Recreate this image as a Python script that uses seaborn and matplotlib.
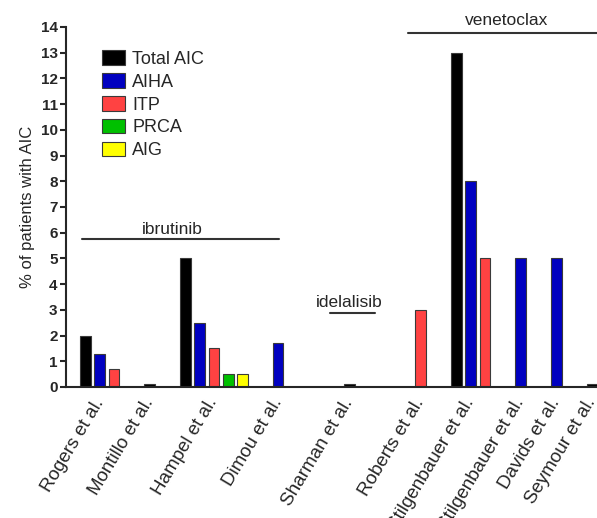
import matplotlib
matplotlib.use("Agg")
import matplotlib.pyplot as plt
import numpy as np
import pandas as pd
import seaborn as sns

studies = ["Rogers et al.", "Montillo et al.", "Hampel et al.", "Dimou et al.",
           "Sharman et al.", "Roberts et al.", "Stilgenbauer et al.",
           "Stilgenbauer et al.", "Davids et al.", "Seymour et al."]
drugs = ["ibrutinib", "ibrutinib", "ibrutinib", "ibrutinib", "idelalisib",
         "venetoclax", "venetoclax", "venetoclax", "venetoclax", "venetoclax"]
total_aic = [2.0, 0.1, 5.0, None, 0.1, None, 13.0, None, None, 0.1]
aiha = [1.3, None, 2.5, 1.7, None, None, 8.0, 5.0, 5.0, None]
itp = [0.7, None, 1.5, None, None, 3.0, 5.0, None, None, None]
prca = [None, None, 0.5, None, None, None, None, None, None, None]
aig = [None, None, 0.5, None, None, None, None, None, None, None]

types = ["Total AIC", "AIHA", "ITP", "PRCA", "AIG"]
series = dict(zip(types, [total_aic, aiha, itp, prca, aig]))
colors = {"Total AIC": "#000000", "AIHA": "#0000C0", "ITP": "#FF4242",
          "PRCA": "#00C000", "AIG": "#FFFF00"}

# bracket annotations: (label, x start, x end, line y, text x, text y) in data units
brackets = [("ibrutinib", -0.25, 13.55, 5.76, 6.1, 5.95),
            ("idelalisib", 17.15, 20.3, 2.88, 18.5, 3.11),
            ("venetoclax", 22.6, 37.0, 13.77, 29.5, 14.09)]

# lay bars out: one slot per present bar, gap between studies, wider gap between drugs
rows, centers = [], []
pos, prev_drug = 0.0, None
for i, study in enumerate(studies):
    if i > 0:
        pos += 2.5 + (2.5 if drugs[i] != prev_drug else 0.0)
    first = None
    for t in types:
        v = series[t][i]
        if v is None:
            continue
        if first is None:
            first = pos
        else:
            pos += 1
        rows.append({"study": study, "type": t, "value": v, "pos": pos})
    centers.append((first + pos) / 2)
    prev_drug = drugs[i]
df = pd.DataFrame(rows)

sns.set_style("ticks")
plt.rcParams["font.family"] = ["Liberation Sans", "DejaVu Sans"]

fig = plt.figure(figsize=(5.97, 5.18), dpi=100)
ax = fig.add_axes([66 / 597, 1 - 387 / 518, 531 / 597, 360 / 518])

sns.barplot(data=df, x="pos", y="value", hue="type", hue_order=types,
            palette=colors, saturation=1, native_scale=True, dodge=False,
            width=0.75, errorbar=None, edgecolor="#3a3a3a", linewidth=0.8, ax=ax)

ax.set_xlim(-1.37, 35.85)
ax.set_ylim(0, 14)
ax.set_yticks(range(0, 15))
ax.set_yticklabels([str(v) for v in range(0, 15)], fontweight="bold", fontsize=11)
ax.set_xticks(centers)
ax.set_xticklabels(studies, rotation=59, ha="right", va="center",
                   rotation_mode="anchor", fontsize=13.5)
ax.tick_params(axis="x", length=0, pad=9)
ax.tick_params(axis="y", length=4, width=1.5, pad=2)
ax.set_xlabel("")
ax.set_ylabel("% of patients with AIC", fontsize=12, labelpad=4)
sns.despine(ax=ax)
for s in ["left", "bottom"]:
    ax.spines[s].set_linewidth(1.5)

for label, x0, x1, y, tx, ty in brackets:
    ax.plot([x0, x1], [y, y], color="#333333", lw=1.5, clip_on=False)
    ax.text(tx, ty, label, ha="center", va="baseline", fontsize=12.5, clip_on=False)

leg = ax.legend(loc="upper left", bbox_to_anchor=(0.055, 0.955), frameon=False,
                fontsize=13, handlelength=1.25, handleheight=0.85,
                labelspacing=0.3, handletextpad=0.4, borderaxespad=0)

fig.savefig("out.png", dpi=100)
